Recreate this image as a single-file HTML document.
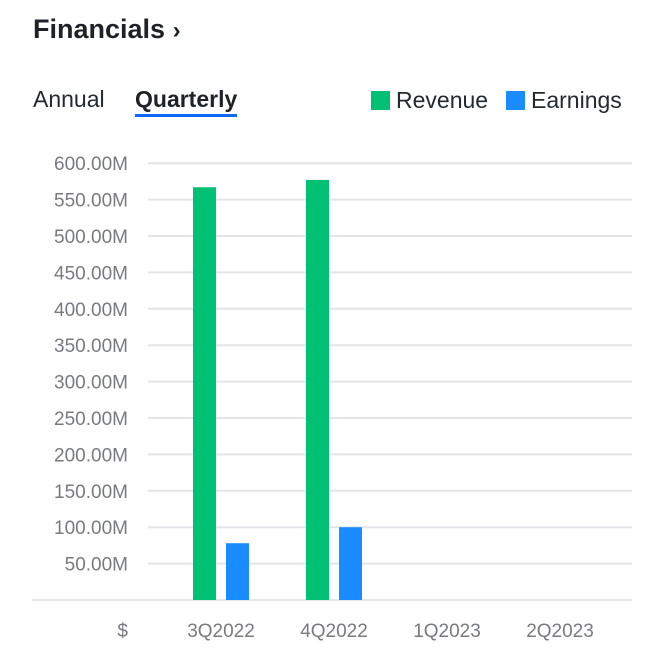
<!DOCTYPE html>
<html><head><meta charset="utf-8"><style>
body{margin:0;background:#fff;width:651px;height:655px;overflow:hidden;font-family:"Liberation Sans",sans-serif;}
.t{position:absolute;}
</style></head><body>
<div class="t" style="left:33px;top:14px;font-size:27px;font-weight:bold;color:#1d2228;">Financials <span style="font-size:24px">&#x203A;</span></div>
<div class="t" style="left:33px;top:86px;font-size:23px;color:#232a31;">Annual</div>
<div class="t" style="left:135px;top:86px;font-size:23px;font-weight:bold;color:#1d2228;border-bottom:3px solid #0f69ff;padding-bottom:1px;">Quarterly</div>
<div class="t" style="left:371px;top:87px;font-size:23px;color:#232a31;"><span style="display:inline-block;width:19px;height:19px;background:#00c073;vertical-align:-2px;margin-right:6px"></span>Revenue</div>
<div class="t" style="left:506px;top:87px;font-size:23px;color:#232a31;"><span style="display:inline-block;width:19px;height:19px;background:#1a8cff;vertical-align:-2px;margin-right:6px"></span>Earnings</div>
<svg id="chart" width="651" height="655" style="position:absolute;left:0;top:0"></svg>
<script>
const categories=["3Q2022","4Q2022","1Q2023","2Q2023"];
const revenue=[567,577,null,null];
const earnings=[78,100,null,null];
const ticks=[50,100,150,200,250,300,350,400,450,500,550,600];
const NS="http://www.w3.org/2000/svg";
const svg=document.getElementById('chart');
const y=v=>600-v*0.728;
const xc=i=>221+i*113;
function mk(t,a){const e=document.createElementNS(NS,t);for(const k in a)e.setAttribute(k,a[k]);svg.appendChild(e);return e;}
ticks.forEach(v=>{
 const l=mk('line',{x1:148,x2:632,y1:y(v),y2:y(v),stroke:'#e3e5e8','stroke-width':2});
 
 
 const t=mk('text',{x:128,y:y(v)+7,'text-anchor':'end','font-size':19,fill:'#777b80','font-family':'Liberation Sans, sans-serif'});
 t.textContent=v.toFixed(2)+'M';
 
 
});
const b=mk('line',{x1:32,x2:632,y1:600,y2:600,stroke:'#e3e5e8','stroke-width':2});


const d=mk('text',{x:128,y:637,'text-anchor':'end','font-size':19,fill:'#777b80','font-family':'Liberation Sans, sans-serif'});
d.textContent='$';


categories.forEach((c,i)=>{
 const t=mk('text',{x:xc(i),y:637,'text-anchor':'middle','font-size':19,fill:'#777b80','font-family':'Liberation Sans, sans-serif'});
 t.textContent=c;
 
 
 if(revenue[i]!=null){
  const r=mk('rect',{x:xc(i)-28,y:y(revenue[i]),width:23,height:600-y(revenue[i]),fill:'#00c073'});
  
  
 }
 if(earnings[i]!=null){
  const r=mk('rect',{x:xc(i)+5,y:y(earnings[i]),width:23,height:600-y(earnings[i]),fill:'#1a8cff'});
  
  
 }
});
</script>
</body></html>
